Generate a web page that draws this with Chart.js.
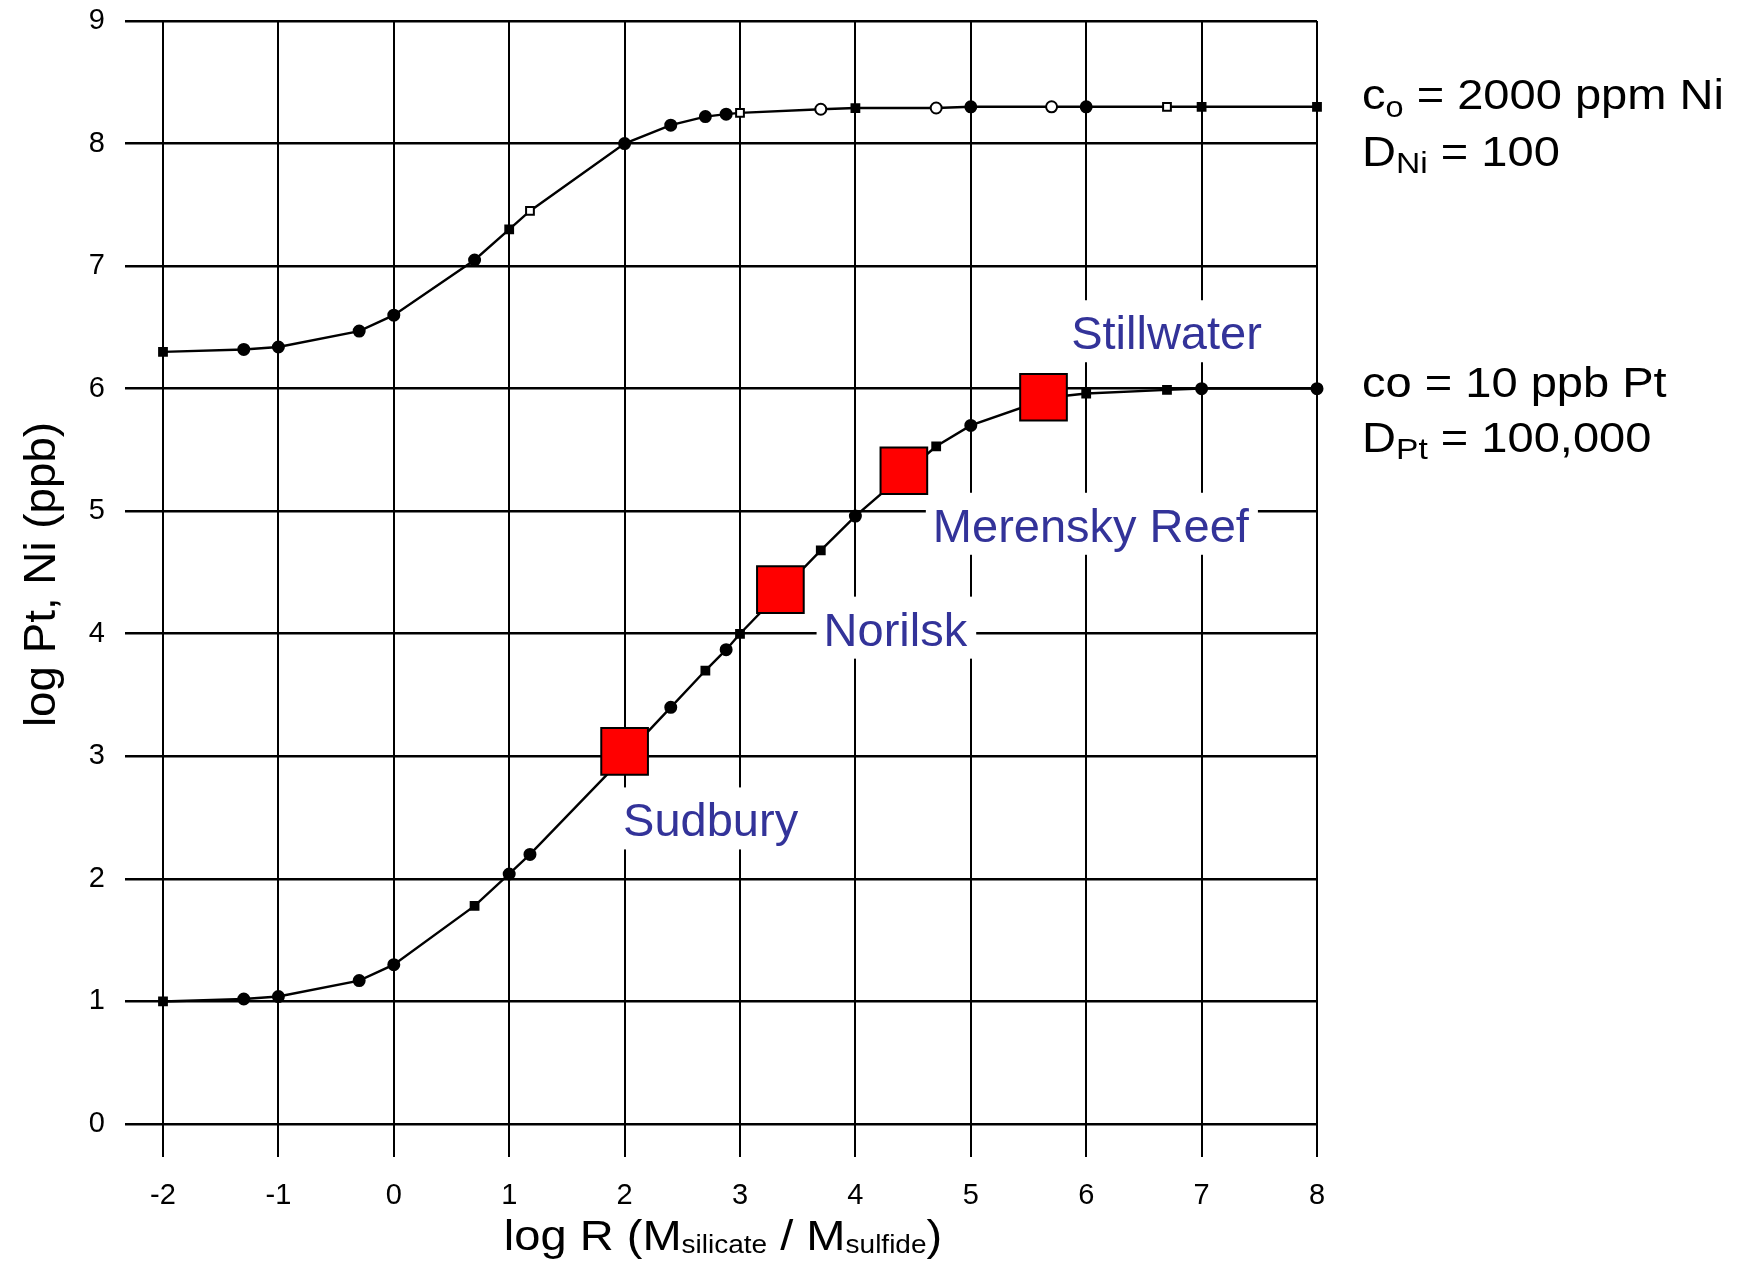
<!DOCTYPE html>
<html lang="en">
<head>
<meta charset="UTF-8">
<title>log Pt, Ni vs log R</title>
<script src="https://cdn.jsdelivr.net/npm/chart.js"></script>
<style>
  html, body { margin: 0; padding: 0; background: #fff; }
  #chart { display: block; }
</style>
</head>
<body>
<canvas id="chart" width="1742" height="1271"></canvas>
<script>
  // log R values of the model points (same for both curves)
  const logR = [-2, -1.3, -1, -0.3, 0, 0.7, 1, 1.18, 2, 2.4, 2.7, 2.88, 3, 3.7, 4, 4.7, 5, 5.7, 6, 6.7, 7, 8];
  const logNi = [6.30, 6.32, 6.34, 6.47, 6.60, 7.05, 7.30, 7.45, 8.00, 8.15, 8.22, 8.24, 8.25, 8.28, 8.29, 8.29, 8.30, 8.30, 8.30, 8.30, 8.30, 8.30];
  const logPt = [1.00, 1.02, 1.04, 1.17, 1.30, 1.78, 2.04, 2.20, 3.00, 3.40, 3.70, 3.87, 4.00, 4.68, 4.96, 5.53, 5.70, 5.93, 5.96, 5.99, 6.00, 6.00];

  // deposits plotted as red squares
  const deposits = ['Sudbury', 'Norilsk', 'Merensky Reef', 'Stillwater'];
  const depositR = [2.0, 3.35, 4.42, 5.63];
  const depositPt = [3.04, 4.36, 5.33, 5.93];

  // label placement relative to each square (px): centre x, baseline y
  const labelOffsets = [[86, 85], [115, 56], [187, 71], [123, -48]];

  const FONT = '"Liberation Sans", Arial, sans-serif';
  Chart.defaults.font.family = FONT;
  Chart.defaults.color = '#000';

  const niStyles = ['rect','circle','circle','circle','circle','circle','rect','rect','circle','circle','circle','circle','rect','circle','rect','circle','circle','circle','circle','rect','rect','rect'];
  const niOpen = [7, 12, 13, 15, 17, 19];
  const ptStyles = ['rect','circle','circle','circle','circle','rect','circle','circle','rect','circle','rect','circle','rect','rect','circle','rect','circle','rect','rect','rect','circle','circle'];

  function pts(xs, ys) {
    return xs.map((x, i) => ({ x: x, y: ys[i] }));
  }

  // draws runs of text (with subscripts) starting at x, baseline y
  function drawRuns(ctx, runs, x, y, align, stretch) {
    let total = 0;
    runs.forEach(r => {
      ctx.font = r.size + 'px ' + FONT;
      r.w = ctx.measureText(r.t).width;
      total += r.w;
    });
    ctx.save();
    ctx.translate(x, y);
    ctx.scale(stretch, 1);
    let cx = align === 'center' ? -total / 2 : 0;
    ctx.textAlign = 'left';
    ctx.textBaseline = 'alphabetic';
    runs.forEach(r => {
      ctx.font = r.size + 'px ' + FONT;
      ctx.fillText(r.t, cx, r.dy || 0);
      cx += r.w;
    });
    ctx.restore();
  }

  const annotate = {
    id: 'annotate',
    beforeDatasetsDraw(chart) {
      const ctx = chart.ctx;
      const xs = chart.scales.x, ys = chart.scales.y;
      ctx.save();
      ctx.font = '47px ' + FONT;
      ctx.textAlign = 'center';
      ctx.textBaseline = 'alphabetic';
      deposits.forEach((name, i) => {
        const px = xs.getPixelForValue(depositR[i]) + labelOffsets[i][0];
        const py = ys.getPixelForValue(depositPt[i]) + labelOffsets[i][1];
        const w = ctx.measureText(name).width;
        ctx.fillStyle = '#fff';
        ctx.fillRect(px - w / 2 - 7, py - 49, w + 16, 62);
        ctx.fillStyle = '#333399';
        ctx.fillText(name, px, py);
      });
      ctx.restore();
    },
    afterDraw(chart) {
      const ctx = chart.ctx;
      const area = chart.chartArea;
      ctx.save();
      ctx.fillStyle = '#000';

      // x axis title
      drawRuns(ctx, [
        { t: 'log R (M', size: 42 },
        { t: 'silicate', size: 25, dy: 3 },
        { t: ' / M', size: 42 },
        { t: 'sulfide', size: 25, dy: 3 },
        { t: ')', size: 42 }
      ], (area.left + area.right) / 2 - 17, 1250, 'center', 1.12);

      // y axis title
      ctx.save();
      ctx.translate(55, (area.top + area.bottom) / 2 + 2);
      ctx.rotate(-Math.PI / 2);
      drawRuns(ctx, [{ t: 'log Pt, Ni (ppb)', size: 44 }], 0, 0, 'center', 1.04);
      ctx.restore();

      // model parameters on the right
      const tx = area.right + 45;
      drawRuns(ctx, [
        { t: 'c', size: 42 }, { t: 'o', size: 29, dy: 8 }, { t: ' = 2000 ppm Ni', size: 42 }
      ], tx, 109, 'left', 1.12);
      drawRuns(ctx, [
        { t: 'D', size: 42 }, { t: 'Ni', size: 30, dy: 7 }, { t: ' = 100', size: 42 }
      ], tx, 166, 'left', 1.12);
      drawRuns(ctx, [{ t: 'co = 10 ppb Pt', size: 42 }], tx, 397, 'left', 1.12);
      drawRuns(ctx, [
        { t: 'D', size: 42 }, { t: 'Pt', size: 30, dy: 7 }, { t: ' = 100,000', size: 42 }
      ], tx, 452, 'left', 1.12);
      ctx.restore();
    }
  };

  new Chart(document.getElementById('chart'), {
    type: 'scatter',
    data: {
      datasets: [
        {
          label: 'Deposits',
          data: pts(depositR, depositPt),
          pointStyle: 'rect',
          pointRadius: 33,
          pointBackgroundColor: '#ff0000',
          pointBorderColor: '#000',
          pointBorderWidth: 2,
          showLine: false
        },
        {
          label: 'Ni',
          data: pts(logR, logNi),
          showLine: true,
          borderColor: '#000',
          borderWidth: 2.4,
          pointStyle: niStyles,
          pointRadius: 5.5,
          pointBorderColor: '#000',
          pointBorderWidth: 2,
          pointBackgroundColor: logR.map((_, i) => niOpen.includes(i) ? '#fff' : '#000'),
          clip: false
        },
        {
          label: 'Pt',
          data: pts(logR, logPt),
          showLine: true,
          borderColor: '#000',
          borderWidth: 2.4,
          pointStyle: ptStyles,
          pointRadius: 5.5,
          pointBorderColor: '#000',
          pointBorderWidth: 2,
          pointBackgroundColor: '#000',
          clip: false
        }
      ]
    },
    options: {
      responsive: false,
      devicePixelRatio: 1,
      animation: false,
      layout: { autoPadding: false, padding: { top: 21, right: 425, left: 0, bottom: 0 } },
      plugins: { legend: { display: false }, tooltip: { enabled: false } },
      scales: {
        x: {
          type: 'linear',
          min: -2, max: 8,
          afterFit: (scale) => { scale.height = 147; scale.paddingLeft = 0; scale.paddingRight = 0; },
          grid: { color: '#000', lineWidth: 2, tickLength: 33, tickColor: '#000', tickWidth: 2 },
          border: { display: true, color: '#000', width: 2 },
          ticks: { stepSize: 1, padding: 22, font: { size: 29 }, color: '#000', maxRotation: 0 }
        },
        y: {
          type: 'linear',
          min: 0, max: 9,
          afterFit: (scale) => { scale.width = 163; scale.paddingTop = 0; scale.paddingBottom = 0; },
          grid: { color: '#000', lineWidth: 2.6, tickLength: 38, tickColor: '#000', tickWidth: 2.6 },
          border: { display: true, color: '#000', width: 2 },
          ticks: { stepSize: 1, padding: 20, font: { size: 29 }, color: '#000' }
        }
      }
    },
    plugins: [annotate]
  });
</script>
</body>
</html>
